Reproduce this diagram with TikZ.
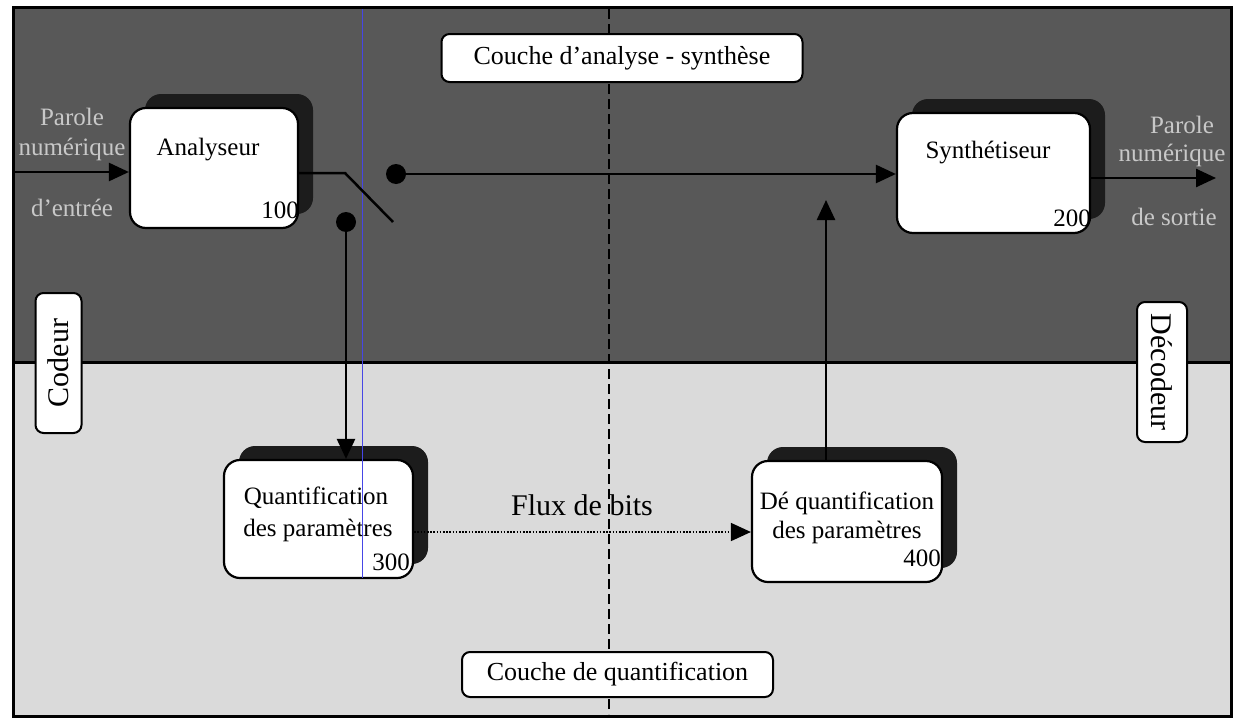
\documentclass[tikz,border=0pt]{standalone}
\usepackage{fontspec}
\setmainfont{Liberation Serif}
\usetikzlibrary{arrows.meta,shadows,calc}
\definecolor{topbg}{RGB}{88,88,88}
\definecolor{botbg}{RGB}{218,218,218}
\definecolor{shadowc}{RGB}{28,28,28}
\definecolor{scanblue}{RGB}{70,70,230}
\definecolor{hollow}{RGB}{200,200,200}
\begin{document}
\begin{tikzpicture}[x=1pt,y=-1pt,
  blk/.style={draw=black, line width=2.2pt, fill=white, rounded corners=16pt, inner sep=0pt,
    drop shadow={shadow xshift=15pt, shadow yshift=14pt, fill=shadowc, opacity=1}},
  tag/.style={draw=black, line width=2pt, fill=white, rounded corners=8pt, inner sep=0pt,
    font=\fontsize{26}{30}\selectfont},
  txt/.style={font=\fontsize{25}{30}\selectfont, inner sep=0pt},
  side/.style={font=\fontsize{25}{30}\selectfont, inner sep=0pt, text=hollow},
  wire/.style={line width=2.5pt, draw=black},
  arr/.style={wire, -{Triangle[length=20pt,width=18pt]}},
  darr/.style={line width=1.6pt, dash pattern=on 1.6pt off 1.6pt, -{Triangle[length=20pt,width=18pt]}},
  dot/.style={circle, fill=black, minimum size=20pt, inner sep=0pt}
]
\useasboundingbox (0,0) rectangle (1239,720);
% backgrounds
\fill[topbg] (13,7) rectangle (1231,362);
\fill[botbg] (13,362) rectangle (1231,716);
\draw[line width=3pt] (13,362) -- (1231,362);
\draw[line width=3pt] (13,7) rectangle (1231,716);
\draw[line width=1.6pt, dash pattern=on 10pt off 5pt] (609,9) -- (609,714);

% layer tags
\node[tag, minimum width=361pt, minimum height=48pt] (tagA) at (622,58) {Couche d’analyse - synthèse};
\node[tag, minimum width=311pt, minimum height=45pt] (tagQ) at (617.5,674.5) {Couche de quantification};
\node[tag, rotate=90, minimum width=140pt, minimum height=46pt, font=\fontsize{30}{34}\selectfont] (cod) at (58.5,363) {Codeur};
\node[tag, rotate=-90, minimum width=140pt, minimum height=50pt, font=\fontsize{30}{34}\selectfont] (dec) at (1162,372) {Décodeur};

% blocks
\node[blk, minimum width=168pt, minimum height=120pt] (ana) at (214,168) {};
\node[blk, minimum width=193pt, minimum height=120pt] (syn) at (993.5,173) {};
\node[blk, minimum width=189pt, minimum height=118pt] (q) at (318.5,519) {};
\node[blk, minimum width=190pt, minimum height=121pt] (d) at (847,521.5) {};

\node[txt] (anaT) at (208,150) {Analyseur};
\node[txt, anchor=east] (anaN) at ($(ana.east)+(0,42)$) {100};
\node[txt] (synT) at (988,153) {Synthétiseur};
\node[txt, anchor=east] (synN) at ($(syn.east)+(0,45)$) {200};
\node[txt] (qT1) at (316,498) {Quantification};
\node[txt] (qT2) at (318,530) {des paramètres};
\node[txt, anchor=east] (qN) at ($(q.east)+(-4,43)$) {300};
\node[txt] (dT1) at (847,503) {Dé quantification};
\node[txt] (dT2) at (847,532) {des paramètres};
\node[txt, anchor=east] (dN) at ($(d.east)+(-2,37)$) {400};

% scan line
\draw[scanblue, line width=1pt] (362,9) -- (362,578);

% side labels
\node[side] (inL1) at (72,117) {Parole};
\node[side] (inL2) at (72,149) {numérique};
\node[side] (inL3) at (72,208) {d’entrée};
\node[side] (outL1) at (1182,125) {Parole};
\node[side] (outL2) at (1172,155) {numérique};
\node[side] (outL3) at (1174,217) {de sortie};

% connectors
\coordinate (inP) at (13,172);
\draw[arr] (inP) -- (inP -| ana.west);
\coordinate (outP) at (1216,178);
\draw[arr] (syn.east |- outP) -- (outP);

\coordinate (sw1) at (345,173);
\coordinate (sw2) at (393,222);
\draw[wire] (ana.east |- sw1) -- (sw1) -- (sw2);
\node[dot] (dotA) at (396,174) {};
\node[dot] (dotB) at (346,222) {};
\draw[arr] (dotA.center) -- (dotA.center -| syn.west);
\draw[arr] (dotB.center) -- (dotB.center |- q.north);

\coordinate (upT) at (826,200);
\draw[arr] (upT |- d.north) -- (upT);

\coordinate (fy) at (0,532);
\draw[darr] (q.east |- fy) -- (d.west |- fy);
\node[font=\fontsize{30}{34}\selectfont, inner sep=0pt] (flux) at (582,505) {Flux de bits};
\end{tikzpicture}
\end{document}
